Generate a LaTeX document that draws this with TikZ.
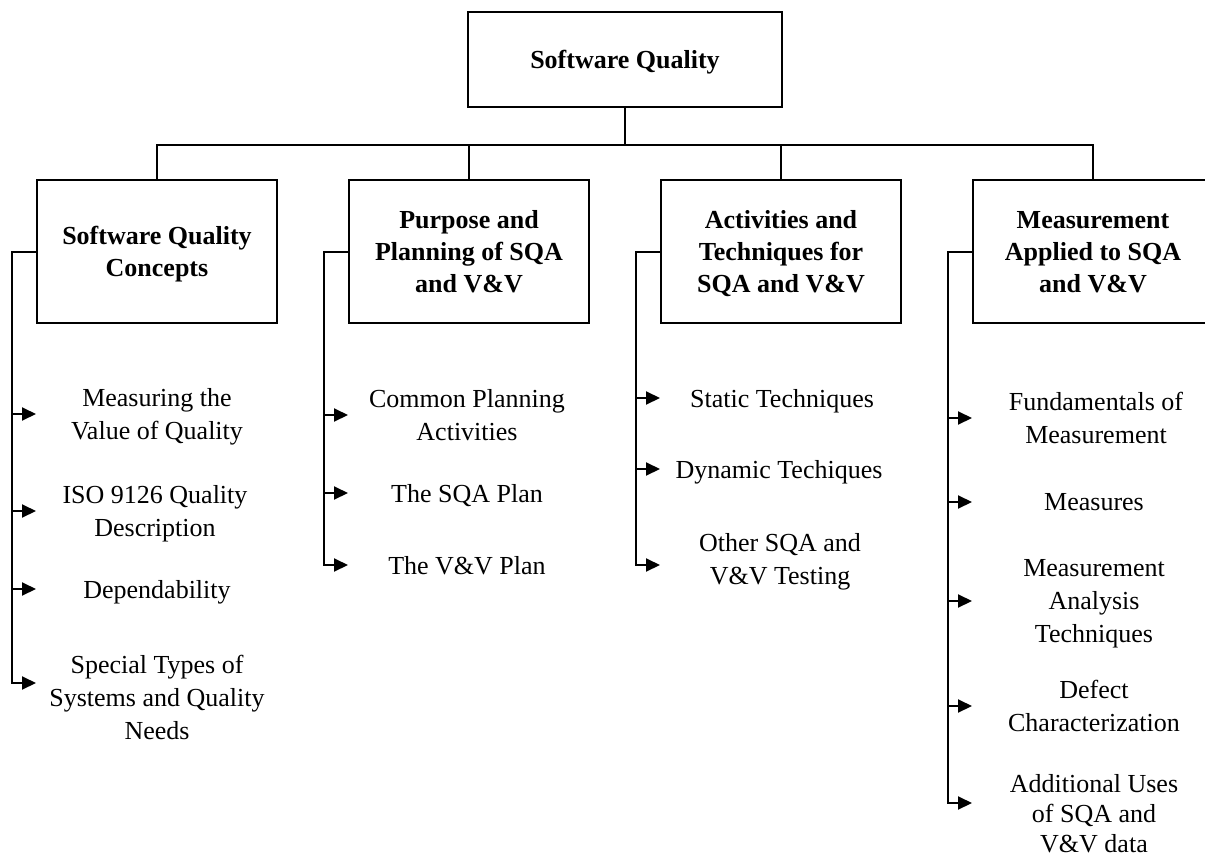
\documentclass[tikz,border=0pt]{standalone}
\usepackage{fontspec}
\setmainfont{Liberation Serif}
\usetikzlibrary{positioning,calc,arrows.meta}
\tikzset{>={Triangle[length=14pt,width=13pt]}}
\tikzset{
  box/.style={draw,align=center,inner sep=0pt,text depth=0pt,font=\fontsize{26}{32}\selectfont\bfseries},
  subbox/.style={box,minimum width=240pt,minimum height=143pt},
  item/.style={align=center,inner sep=0pt,text depth=0pt,font=\fontsize{26}{33}\selectfont}
}

\begin{document}
\begin{tikzpicture}[x=1pt,y=-1pt,line width=2pt]
% Page of 1205 by 859
\useasboundingbox (0,0) rectangle (1205,859);
\clip (0,0) rectangle (1205,859);

% Top box
\node[box,minimum width=314pt,minimum height=95pt] (sq) at (625,59.5) {Software Quality};

% Second level boxes
\node[subbox] (conc) at (157,251.5) {Software Quality\\Concepts};
\node[subbox] (plan) at (469,251.5) {Purpose and\\Planning of SQA\\and V\&V};
\node[subbox] (tech) at (781,251.5) {Activities and\\Techniques for\\SQA and V\&V};
\node[subbox] (meas) at (1093,251.5) {Measurement\\Applied to SQA\\and V\&V};

% Tree lines
\draw (sq.south) -- ++(0,37) coordinate (bar);
\draw (conc.north) |- (bar) -| (meas.north);
\draw (plan.north) -- (plan.north |- bar);
\draw (tech.north) -- (tech.north |- bar);

% Topics under the first box
\node[item] (conc1) at (157,414) {Measuring the\\Value of Quality};
\node[item] (conc2) at (155,511) {ISO 9126 Quality\\Description};
\node[item] (conc3) at (157,589) {Dependability};
\node[item] (conc4) at (157,697) {Special Types of\\Systems and Quality\\Needs};

\draw[->] (conc.west) -- ++(-24,0) coordinate (conct)
   |- ($(conc.west |- conc4)+(0,-14)$);
\draw[->] (conct |- conc1) -- (conc.west |- conc1);
\draw[->] (conct |- conc2) -- (conc.west |- conc2);
\draw[->] (conct |- conc3) -- (conc.west |- conc3);

% Topics under the second box
\node[item] (plan1) at (467,415) {Common Planning\\Activities};
\node[item] (plan2) at (467,493) {The SQA Plan};
\node[item] (plan3) at (467,565) {The V\&V Plan};

\draw[->] (plan.west) -- ++(-24,0) coordinate (plant) |- (plan.west |- plan3);
\draw[->] (plant |- plan1) -- (plan.west |- plan1);
\draw[->] (plant |- plan2) -- (plan.west |- plan2);

% Topics under the third box
\node[item] (tech1) at (782,398) {Static Techniques};
\node[item] (tech2) at (779,469) {Dynamic Techiques};
\node[item] (tech3) at (780,559) {Other SQA and\\V\&V Testing};

\draw[->] (tech.west) -- ++(-24,0) coordinate (techt)
   |- ($(tech.west |- tech3)+(0,6)$);
\draw[->] (techt |- tech1) -- (tech.west |- tech1);
\draw[->] (techt |- tech2) -- (tech.west |- tech2);

% Topics under the fourth box
\node[item] (meas1) at (1096,418) {Fundamentals of\\Measurement};
\node[item] (meas2) at (1094,502) {Measures};
\node[item] (meas3) at (1094,601) {Measurement\\Analysis\\Techniques};
\node[item] (meas4) at (1094,706) {Defect\\Characterization};
\node[item,font=\fontsize{26}{30}\selectfont] (meas5) at (1094,813) {Additional Uses\\of SQA and\\V\&V data};

\draw[->] (meas.west) -- ++(-24,0) coordinate (meast)
   |- ($(meas.west |- meas5)+(0,-10)$);
\draw[->] (meast |- meas1) -- (meas.west |- meas1);
\draw[->] (meast |- meas2) -- (meas.west |- meas2);
\draw[->] (meast |- meas3) -- (meas.west |- meas3);
\draw[->] (meast |- meas4) -- (meas.west |- meas4);
\end{tikzpicture}
\end{document}
